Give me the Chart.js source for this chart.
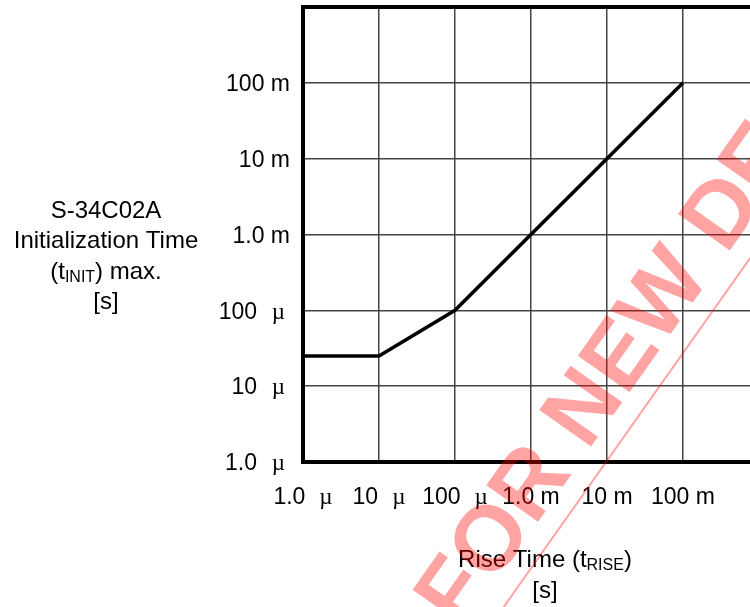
<!DOCTYPE html>
<html>
<head>
<meta charset="utf-8">
<script src="https://cdn.jsdelivr.net/npm/chart.js@4"></script>
<style>
  html, body { margin: 0; padding: 0; overflow: hidden; background: #fff; }
  #wrap { width: 780px; height: 607px; }
</style>
</head>
<body>
<div id="wrap"><canvas id="c" width="780" height="607" style="width:780px;height:607px"></canvas></div>
<script>
// ---- data ----
const riseTime = [1e-6, 1e-5, 1e-4, 1e-1];          // x values [s]
const initTime = [25e-6, 25e-6, 1e-4, 1e-1];        // y values [s]
const decades = [1e-6, 1e-5, 1e-4, 1e-3, 1e-2, 1e-1, 1e0];
const xTickLabels = ['1.0 µ', '10 µ', '100 µ', '1.0 m', '10 m', '100 m'];
const yTickLabels = ['1.0 µ', '10 µ', '100 µ', '1.0 m', '10 m', '100 m'];
const yTitleLines = ['S-34C02A', 'Initialization Time', ['(t', 'INIT', ') max.'], '[s]'];
const xTitleLines = [['Rise Time (t', 'RISE', ')'], '[s]'];
const watermarkText = 'NOT RECOMMENDED FOR NEW DESIGN';

const SANS = '"Liberation Sans", Arial, sans-serif';
const SERIF = '"Liberation Serif", "Times New Roman", serif';

function decadeTicks(scale) {
  scale.ticks = decades.map(v => ({ value: v }));
}

function drawMixed(ctx, parts, cx, baseline, size, subSize) {
  // parts: string or [normal, sub, normal]
  if (typeof parts === 'string') parts = [parts];
  const fonts = parts.map((p, i) => (i % 2 === 1 ? subSize : size));
  let total = 0;
  const widths = parts.map((p, i) => {
    ctx.font = fonts[i] + 'px ' + SANS;
    const w = ctx.measureText(p).width;
    total += w;
    return w;
  });
  let x = cx - total / 2;
  ctx.textAlign = 'left';
  ctx.textBaseline = 'alphabetic';
  parts.forEach((p, i) => {
    ctx.font = fonts[i] + 'px ' + SANS;
    ctx.fillText(p, x, baseline + (i % 2 === 1 ? 3 : 0));
    x += widths[i];
  });
}

const overlay = {
  id: 'overlay',
  afterDatasetsDraw(chart) {
    const { ctx, chartArea: a } = chart;
    ctx.save();
    ctx.strokeStyle = '#000';
    ctx.lineWidth = 4;
    ctx.strokeRect(a.left, a.top, a.right - a.left, a.bottom - a.top);
    ctx.restore();
  },
  afterDraw(chart) {
    const { ctx } = chart;
    const xs = chart.scales.x, ys = chart.scales.y;
    ctx.save();
    ctx.fillStyle = '#000';
    const fs = 23;
    // x tick labels
    xTickLabels.forEach((lab, i) => {
      const px = xs.getPixelForValue(decades[i]);
      const [num, unit] = lab.split(' ');
      ctx.textBaseline = 'alphabetic';
      if (unit === 'µ') {
        ctx.font = fs + 'px ' + SANS;
        const wn = ctx.measureText(num).width;
        ctx.font = fs + 'px ' + SERIF;
        const wu = ctx.measureText('µ').width;
        const gap = 14;
        const start = px - (wn + gap + wu) / 2;
        ctx.textAlign = 'left';
        ctx.font = fs + 'px ' + SANS;
        ctx.fillText(num, start, 504);
        ctx.font = fs + 'px ' + SERIF;
        ctx.fillText('µ', start + wn + gap, 504);
      } else {
        ctx.font = fs + 'px ' + SANS;
        ctx.textAlign = 'center';
        ctx.fillText(lab, px, 504);
      }
    });
    // y tick labels
    yTickLabels.forEach((lab, i) => {
      const py = ys.getPixelForValue(decades[i]);
      const [num, unit] = lab.split(' ');
      ctx.textBaseline = 'alphabetic';
      ctx.textAlign = 'right';
      const base = py + 8.3;
      if (unit === 'µ') {
        ctx.font = fs + 'px ' + SANS;
        ctx.fillText(num, 257, base);
        ctx.font = fs + 'px ' + SERIF;
        ctx.fillText('µ', 285, base);
      } else {
        ctx.font = fs + 'px ' + SANS;
        ctx.fillText(lab, 290, base);
      }
    });
    // y title
    yTitleLines.forEach((ln, i) => drawMixed(ctx, ln, 106, 218 + i * 30.3, 24, 16));
    // x title
    xTitleLines.forEach((ln, i) => drawMixed(ctx, ln, 545, 567 + i * 30.5, 24, 16));
    ctx.restore();

    // watermark
    ctx.save();
    const wfs = 92;
    ctx.font = 'bold ' + wfs + 'px ' + SANS;
    ctx.translate(487, 537);
    ctx.rotate(Math.atan2(-330, 233));
    const pre = ctx.measureText('NOT RECOMMENDED F').width;
    const wO = ctx.measureText('O').width;
    const total = ctx.measureText(watermarkText).width;
    const x0 = -(pre + wO / 2);
    ctx.fillStyle = 'rgba(255,0,0,0.36)';
    ctx.strokeStyle = 'rgba(255,0,0,0.36)';
    ctx.textAlign = 'left';
    ctx.textBaseline = 'alphabetic';
    ctx.fillText(watermarkText, x0, 0.358 * wfs);
    ctx.lineWidth = 2;
    ctx.beginPath();
    ctx.moveTo(x0, 54);
    ctx.lineTo(x0 + total, 54);
    ctx.stroke();
    ctx.restore();
  }
};

const ctx = document.getElementById('c').getContext('2d');
new Chart(ctx, {
  type: 'line',
  data: {
    datasets: [{
      data: riseTime.map((x, i) => ({ x, y: initTime[i] })),
      borderColor: '#000',
      borderWidth: 3.5,
      pointRadius: 0,
      tension: 0,
      fill: false
    }]
  },
  options: {
    responsive: false,
    animation: false,
    devicePixelRatio: 1,
    layout: { padding: { left: 303, top: 7, right: 21, bottom: 145 } },
    plugins: { legend: { display: false }, tooltip: { enabled: false } },
    scales: {
      x: {
        type: 'logarithmic',
        min: 1e-6, max: 1,
        afterBuildTicks: decadeTicks,
        ticks: { display: false },
        grid: { color: '#444', lineWidth: 1.5, drawTicks: false },
        border: { display: false }
      },
      y: {
        type: 'logarithmic',
        min: 1e-6, max: 1,
        afterBuildTicks: decadeTicks,
        ticks: { display: false },
        grid: { color: '#444', lineWidth: 1.5, drawTicks: false },
        border: { display: false }
      }
    }
  },
  plugins: [overlay]
});
</script>
</body>
</html>
